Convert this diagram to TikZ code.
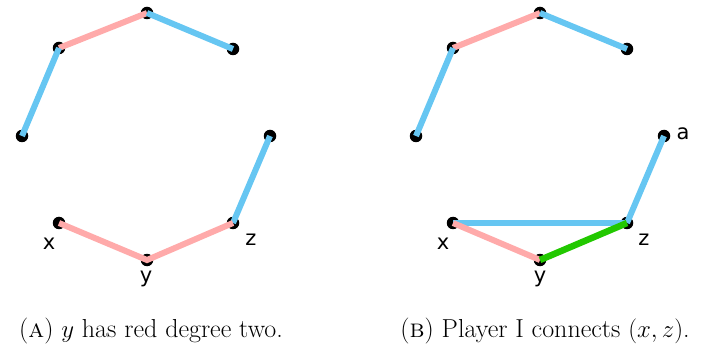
\documentclass[tikz,border=0pt]{standalone}
\usepackage{fontspec}
\newfontfamily\lblfont{DejaVu Sans}
\definecolor{redE}{HTML}{FFAAAA}
\definecolor{blueE}{HTML}{66C6F2}
\definecolor{greenE}{HTML}{22C800}
\begin{document}
\begin{tikzpicture}[x=1pt,y=-1pt,
  vtx/.style={circle,fill=black,inner sep=0pt,minimum size=12.5pt},
  redge/.style={redE,line width=6pt},
  bedge/.style={blueE,line width=6pt},
  gedge/.style={greenE,line width=6.5pt},
  lbl/.style={font=\lblfont\fontsize{21}{25}\selectfont,inner sep=0pt},
  captxt/.style={font=\fontsize{26}{31}\selectfont,inner sep=0pt,anchor=base}]
\useasboundingbox (0,0) rectangle (706,347);
% Panel A
\node[vtx] (t1) at (147,13) {};
\node[vtx] (ul1) at (59,48) {};
\node[vtx] (ur1) at (233,49) {};
\node[vtx] (l1) at (22,136) {};
\node[vtx] (r1) at (270,136) {};
\node[vtx] (x1) at (59,223) {};
\node[vtx] (y1) at (147,260) {};
\node[vtx] (z1) at (233,223) {};
\draw[redge] (ul1.center) -- (t1.center);
\draw[bedge] (t1.center) -- (ur1.center);
\draw[bedge] (l1.center) -- (ul1.center);
\draw[bedge] (z1.center) -- (r1.center);
\draw[redge] (x1.center) -- (y1.center) -- (z1.center);
\node[lbl] (lx1) at (49,244) {x};
\node[lbl] (ly1) at (146,279) {y};
\node[lbl] (lz1) at (251,240) {z};
% Panel B
\node[vtx] (t2) at (540,13) {};
\node[vtx] (ul2) at (453,48) {};
\node[vtx] (ur2) at (627,49) {};
\node[vtx] (l2) at (416,136) {};
\node[vtx] (a2) at (664,136) {};
\node[vtx] (x2) at (453,223) {};
\node[vtx] (y2) at (540,260) {};
\node[vtx] (z2) at (627,223) {};
\draw[redge] (ul2.center) -- (t2.center);
\draw[bedge] (t2.center) -- (ur2.center);
\draw[bedge] (l2.center) -- (ul2.center);
\draw[bedge] (z2.center) -- (a2.center);
\draw[bedge] (x2.center) -- (z2.center);
\draw[redge] (x2.center) -- (y2.center);
\draw[gedge] (y2.center) -- (z2.center);
\node[lbl] (la2) at (683,134) {a};
\node[lbl] (lx2) at (443,244) {x};
\node[lbl] (ly2) at (540,279) {y};
\node[lbl] (lz2) at (644,240) {z};
% captions
\node[captxt] (capA) at (151,337) {(\textsc{a}) $y$ has red degree two.};
\node[captxt] (capB) at (545,337) {(\textsc{b}) Player I connects $(x,z)$.};
\end{tikzpicture}
\end{document}
